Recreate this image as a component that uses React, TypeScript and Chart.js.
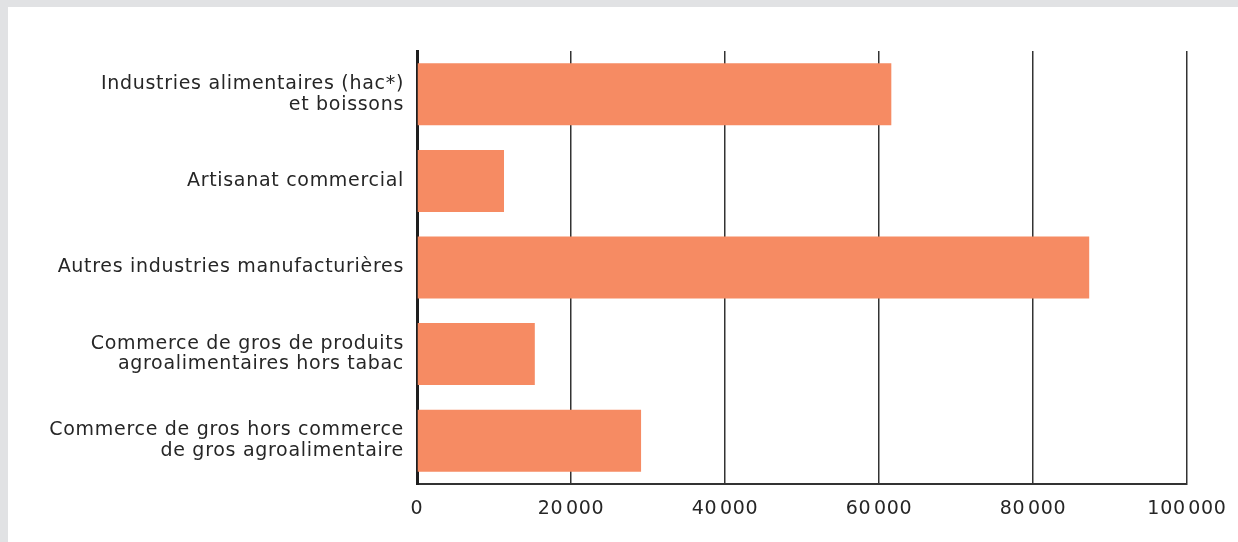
import React, { useEffect, useRef } from "react";
import { Chart, registerables } from "chart.js";

Chart.register(...registerables);

const categories: string[][] = [
  ["Industries alimentaires (hac*)", "et boissons"],
  ["Artisanat commercial"],
  ["Autres industries manufacturières"],
  ["Commerce de gros de produits", "agroalimentaires hors tabac"],
  ["Commerce de gros hors commerce", "de gros agroalimentaire"],
];
const values: number[] = [61600, 11300, 87300, 15300, 29100];
const tickValues: number[] = [0, 20000, 40000, 60000, 80000, 100000];

const FONT = "'DejaVu Sans', sans-serif";

const spacingPlugin = {
  id: "letterSpacing",
  beforeUpdate: (chart: any) => {
    (chart.ctx as any).letterSpacing = "0.7px";
  },
  beforeDraw: (chart: any) => {
    (chart.ctx as any).letterSpacing = "0.7px";
  },
};

export default function App() {
  const ref = useRef<HTMLCanvasElement | null>(null);
  useEffect(() => {
    if (!ref.current) return;
    const chart = new Chart(ref.current, {
      type: "bar",
      data: {
        labels: categories,
        datasets: [
          {
            data: values,
            backgroundColor: "#f68b63",
            borderWidth: 0,
            barPercentage: 0.716,
            categoryPercentage: 1,
          },
        ],
      },
      plugins: [spacingPlugin],
      options: {
        indexAxis: "y",
        animation: false,
        responsive: false,
        maintainAspectRatio: false,
        devicePixelRatio: 1,
        layout: { padding: { top: 44, right: 51, left: 0, bottom: 0 } },
        plugins: { legend: { display: false }, tooltip: { enabled: false } },
        scales: {
          x: {
            min: 0,
            max: 100000,
            afterBuildTicks: (scale: any) => {
              scale.ticks = tickValues.map((v) => ({ value: v }));
            },
            afterFit: (scale: any) => {
              scale.height = 58;
              scale.paddingLeft = 0;
              scale.paddingRight = 0;
            },
            grid: {
              color: "#333333",
              lineWidth: 1.5,
              drawTicks: false,
            },
            border: { display: true, color: "#333333", width: 2 },
            ticks: {
              padding: 14,
              color: "#262626",
              font: { family: FONT, size: 19 },
              callback: (v: any) =>
                Number(v) === 0
                  ? "0"
                  : String(v).replace(/\B(?=(\d{3})+(?!\d))/g, "\u200a"),
            },
          },
          y: {
            afterFit: (scale: any) => {
              scale.width = 409;
            },
            grid: { display: false },
            border: { display: true, color: "#1e1e1e", width: 3 },
            ticks: {
              padding: 5,
              color: "#262626",
              font: { family: FONT, size: 19, lineHeight: 1.1 },
            },
          },
        },
      },
    });
    return () => chart.destroy();
  }, []);
  return (
    <div style={{ position: "fixed", inset: 0, background: "#e1e2e4" }}>
      <div
        style={{
          position: "absolute",
          left: 8,
          top: 7,
          right: 0,
          bottom: 0,
          background: "#ffffff",
        }}
      >
        <canvas ref={ref} width={1230} height={535} style={{ display: "block" }} />
      </div>
    </div>
  );
}
